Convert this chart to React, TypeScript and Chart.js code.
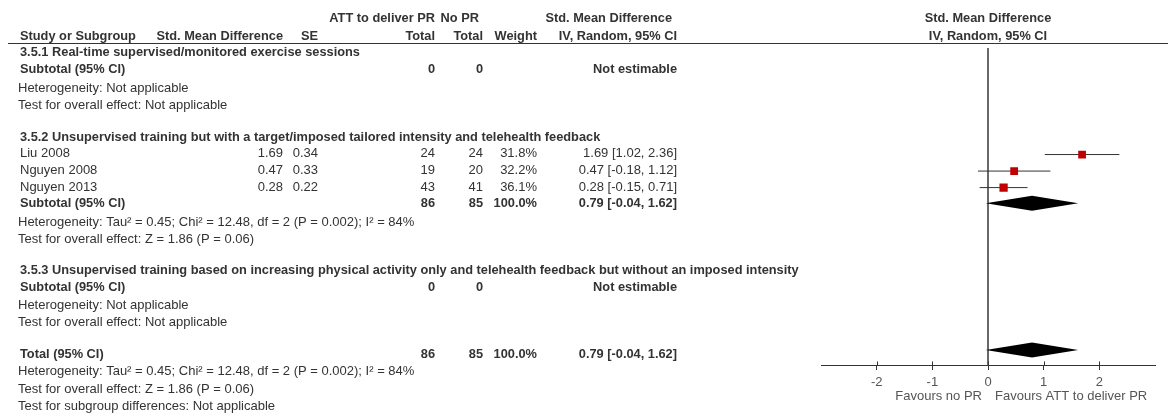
import React, { useEffect, useRef } from "react";
import { Chart, registerables } from "chart.js";

Chart.register(...registerables);

// ---------- data ----------
const studyNames = ["Liu 2008", "Nguyen 2008", "Nguyen 2013"];
const studySmd = [1.69, 0.47, 0.28];
const studySe = [0.34, 0.33, 0.22];
const studyCiLow = [1.02, -0.18, -0.15];
const studyCiHigh = [2.36, 1.12, 0.71];
const totalAtt = [24, 19, 43];
const totalNoPr = [24, 20, 41];
const studyWeight = [31.8, 32.2, 36.1];
const subtotalWeight = [100.0];

const pooledEst = [0.79];
const pooledLow = [-0.04];
const pooledHigh = [1.62];

const hetTau2 = 0.45;
const hetChi2 = 12.48;
const hetDf = 2;
const hetP = "0.002";
const hetI2 = 84;
const overallZ = 1.86;
const overallP = "0.06";

const axisTicks = [-2, -1, 0, 1, 2];
const axisMin = -3;
const axisMax = 3;

const sectionTitles = [
  "3.5.1 Real-time supervised/monitored exercise sessions",
  "3.5.2 Unsupervised training but with a target/imposed tailored intensity and telehealth feedback",
  "3.5.3 Unsupervised training based on increasing physical activity only and telehealth feedback but without an imposed intensity",
];

// ---------- layout (pixels) ----------
const W = 1171;
const H = 416;
const ROW = {
  h1: 18,
  h2: 36,
  line: 43.5,
  s1Title: 52,
  s1Sub: 69,
  s1Het: 88,
  s1Test: 105,
  s2Title: 137,
  studies: [153, 170, 187],
  s2Sub: 203,
  s2Het: 222,
  s2Test: 239,
  s3Title: 270,
  s3Sub: 287,
  s3Het: 305,
  s3Test: 322,
  total: 354,
  totHet: 371,
  totTest: 389,
  subDiff: 406,
  axis: 370,
};
const COL = {
  name: 20,
  smd: 283,
  se: 318,
  att: 435,
  no: 483,
  weight: 537,
  ci: 677,
};
const FAMILY = "'Liberation Sans', Arial, sans-serif";
const TEXT = "#333";

const f2 = (v: number) => v.toFixed(2);
const ciText = (e: number, l: number, h: number) => `${f2(e)} [${f2(l)}, ${f2(h)}]`;

const forestPlugin = {
  id: "forestText",
  afterDatasetsDraw(chart: any) {
    const ctx: CanvasRenderingContext2D = chart.ctx;
    const xs = chart.scales.x;
    const ys = chart.scales.y;
    ctx.save();
    // diamonds
    const diamond = (row: number) => {
      const yc = ys.getPixelForValue(row);
      const l = xs.getPixelForValue(pooledLow[0]);
      const c = xs.getPixelForValue(pooledEst[0]);
      const r = xs.getPixelForValue(pooledHigh[0]);
      ctx.beginPath();
      ctx.moveTo(l, yc);
      ctx.lineTo(c, yc - 7.5);
      ctx.lineTo(r, yc);
      ctx.lineTo(c, yc + 7.5);
      ctx.closePath();
      ctx.fillStyle = "#000";
      ctx.fill();
    };
    diamond(ROW.s2Sub);
    diamond(ROW.total);

    // upward tick marks
    ctx.strokeStyle = "#333";
    ctx.lineWidth = 1;
    const ay = ys.getPixelForValue(ROW.axis);
    axisTicks.forEach((t) => {
      const x = Math.round(xs.getPixelForValue(t)) + 0.5;
      ctx.beginPath();
      ctx.moveTo(x, ay - 4);
      ctx.lineTo(x, ay);
      ctx.stroke();
    });

    // header line
    ctx.beginPath();
    ctx.moveTo(8, ROW.line);
    ctx.lineTo(1168, ROW.line);
    ctx.stroke();

    const txt = (s: string, x: number, y: number, align: CanvasTextAlign = "left", bold = false, color = TEXT) => {
      ctx.font = bold ? `bold 12.8px ${FAMILY}` : `13px ${FAMILY}`;
      ctx.fillStyle = color;
      ctx.textAlign = align;
      ctx.textBaseline = "middle";
      ctx.fillText(s, x, y);
    };

    const zeroX = xs.getPixelForValue(0);

    // headers
    txt("ATT to deliver PR", COL.att, ROW.h1, "right", true);
    txt("No PR", 479, ROW.h1, "right", true);
    txt("Std. Mean Difference", 672, ROW.h1, "right", true);
    txt("Std. Mean Difference", zeroX, ROW.h1, "center", true);
    txt("Study or Subgroup", COL.name, ROW.h2, "left", true);
    txt("Std. Mean Difference", COL.smd, ROW.h2, "right", true);
    txt("SE", COL.se, ROW.h2, "right", true);
    txt("Total", COL.att, ROW.h2, "right", true);
    txt("Total", COL.no, ROW.h2, "right", true);
    txt("Weight", COL.weight, ROW.h2, "right", true);
    txt("IV, Random, 95% CI", COL.ci, ROW.h2, "right", true);
    txt("IV, Random, 95% CI", zeroX, ROW.h2, "center", true);

    const hetStr = `Heterogeneity: Tau\u00B2 = ${hetTau2.toFixed(2)}; Chi\u00B2 = ${hetChi2.toFixed(2)}, df = ${hetDf} (P = ${hetP}); I\u00B2 = ${hetI2}%`;
    const testStr = `Test for overall effect: Z = ${overallZ.toFixed(2)} (P = ${overallP})`;
    const sumAtt = totalAtt.reduce((a, b) => a + b, 0);
    const sumNo = totalNoPr.reduce((a, b) => a + b, 0);
    const sumW = subtotalWeight[0];

    // 3.5.1
    txt(sectionTitles[0], COL.name, ROW.s1Title, "left", true);
    txt("Subtotal (95% CI)", COL.name, ROW.s1Sub, "left", true);
    txt("0", COL.att, ROW.s1Sub, "right", true);
    txt("0", COL.no, ROW.s1Sub, "right", true);
    txt("Not estimable", COL.ci, ROW.s1Sub, "right", true);
    txt("Heterogeneity: Not applicable", 18, ROW.s1Het);
    txt("Test for overall effect: Not applicable", 18, ROW.s1Test);

    // 3.5.2
    txt(sectionTitles[1], COL.name, ROW.s2Title, "left", true);
    studyNames.forEach((n, i) => {
      const y = ROW.studies[i];
      txt(n, COL.name, y);
      txt(f2(studySmd[i]), COL.smd, y, "right");
      txt(f2(studySe[i]), COL.se, y, "right");
      txt(String(totalAtt[i]), COL.att, y, "right");
      txt(String(totalNoPr[i]), COL.no, y, "right");
      txt(`${studyWeight[i].toFixed(1)}%`, COL.weight, y, "right");
      txt(ciText(studySmd[i], studyCiLow[i], studyCiHigh[i]), COL.ci, y, "right");
    });
    txt("Subtotal (95% CI)", COL.name, ROW.s2Sub, "left", true);
    txt(String(sumAtt), COL.att, ROW.s2Sub, "right", true);
    txt(String(sumNo), COL.no, ROW.s2Sub, "right", true);
    txt(`${sumW.toFixed(1)}%`, COL.weight, ROW.s2Sub, "right", true);
    txt(ciText(pooledEst[0], pooledLow[0], pooledHigh[0]), COL.ci, ROW.s2Sub, "right", true);
    txt(hetStr, 18, ROW.s2Het);
    txt(testStr, 18, ROW.s2Test);

    // 3.5.3
    txt(sectionTitles[2], COL.name, ROW.s3Title, "left", true);
    txt("Subtotal (95% CI)", COL.name, ROW.s3Sub, "left", true);
    txt("0", COL.att, ROW.s3Sub, "right", true);
    txt("0", COL.no, ROW.s3Sub, "right", true);
    txt("Not estimable", COL.ci, ROW.s3Sub, "right", true);
    txt("Heterogeneity: Not applicable", 18, ROW.s3Het);
    txt("Test for overall effect: Not applicable", 18, ROW.s3Test);

    // total
    txt("Total (95% CI)", COL.name, ROW.total, "left", true);
    txt(String(sumAtt), COL.att, ROW.total, "right", true);
    txt(String(sumNo), COL.no, ROW.total, "right", true);
    txt(`${sumW.toFixed(1)}%`, COL.weight, ROW.total, "right", true);
    txt(ciText(pooledEst[0], pooledLow[0], pooledHigh[0]), COL.ci, ROW.total, "right", true);
    txt(hetStr, 18, ROW.totHet);
    txt(testStr, 18, ROW.totTest);
    txt("Test for subgroup differences: Not applicable", 18, ROW.subDiff);

    // favours labels
    txt("Favours no PR", zeroX - 6, 396, "right", false, "#555");
    txt("Favours ATT to deliver PR", zeroX + 7, 396, "left", false, "#555");

    ctx.restore();
  },
};

export default function App() {
  const ref = useRef<HTMLCanvasElement | null>(null);
  useEffect(() => {
    document.body.style.margin = "0";
    const canvas = ref.current;
    if (!canvas) return;
    const markerData = studyNames.map((_, i) => ({ x: studySmd[i], y: ROW.studies[i] }));
    const ciSets = studyNames.map((_, i) => ({
      type: "line" as const,
      data: [
        { x: studyCiLow[i], y: ROW.studies[i] },
        { x: studyCiHigh[i], y: ROW.studies[i] },
      ],
      borderColor: "#333",
      borderWidth: 1,
      pointRadius: 0,
      order: 1,
    }));
    const chart = new Chart(canvas, {
      type: "line",
      data: {
        datasets: [
          {
            type: "scatter",
            data: markerData,
            pointStyle: "rect",
            pointRadius: studyWeight.map((w) => Math.sqrt(w) * 0.97),
            backgroundColor: "#c00000",
            borderWidth: 0,
            order: 0,
          } as any,
          ...ciSets,
          {
            type: "line",
            data: [
              { x: 0, y: ROW.line },
              { x: 0, y: ROW.axis },
            ],
            borderColor: "#555",
            borderWidth: 1,
            pointRadius: 0,
            order: 2,
          },
        ],
      },
      options: {
        responsive: false,
        animation: false,
        layout: { padding: { left: 821, right: 16, top: 0, bottom: 0 } },
        plugins: { legend: { display: false }, tooltip: { enabled: false } },
        scales: {
          x: {
            type: "linear",
            min: axisMin,
            max: axisMax,
            position: { y: ROW.axis } as any,
            afterBuildTicks: (ax: any) => {
              ax.ticks = axisTicks.map((v) => ({ value: v }));
            },
            grid: { drawOnChartArea: false, color: "#333", tickLength: 4 },
            border: { color: "#333" },
            ticks: {
              color: "#555",
              font: { size: 13, family: FAMILY },
              padding: 5,
              maxRotation: 0,
              callback: (v: any) => String(v),
            },
          },
          y: {
            type: "linear",
            min: 0,
            max: H,
            reverse: true,
            display: false,
          },
        },
      },
      plugins: [forestPlugin],
    } as any);
    return () => chart.destroy();
  }, []);
  return (
    <div style={{ width: W, height: H, background: "#fff" }}>
      <canvas ref={ref} width={W} height={H} style={{ display: "block", width: W, height: H }} />
    </div>
  );
}
